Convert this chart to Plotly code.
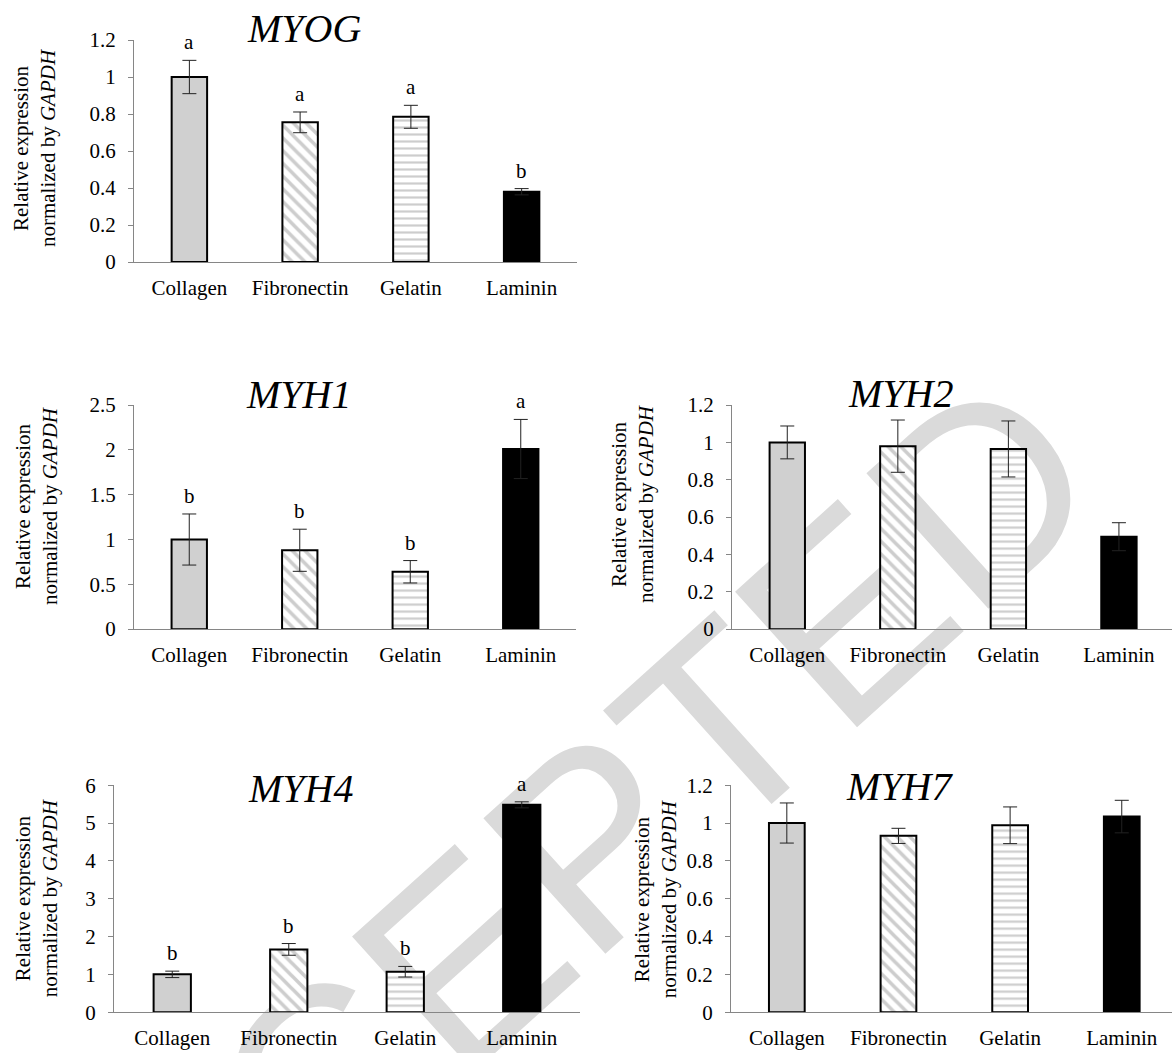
import plotly.graph_objects as go

W, H = 1172, 1053

categories = ["Collagen", "Fibronectin", "Gelatin", "Laminin"]

myog_mean = [1.00, 0.755, 0.785, 0.38]
myog_err = [0.09, 0.056, 0.062, 0.017]
myog_letters = ["a", "a", "a", "b"]

myh1_mean = [1.00, 0.88, 0.64, 2.01]
myh1_err = [0.285, 0.235, 0.125, 0.33]
myh1_letters = ["b", "b", "b", "a"]

myh2_mean = [1.00, 0.98, 0.965, 0.495]
myh2_err = [0.088, 0.14, 0.15, 0.075]
myh2_letters = []

myh4_mean = [1.00, 1.66, 1.07, 5.48]
myh4_err = [0.085, 0.155, 0.14, 0.08]
myh4_letters = ["b", "b", "b", "a"]

myh7_mean = [1.00, 0.932, 0.988, 1.034]
myh7_err = [0.106, 0.04, 0.097, 0.086]
myh7_letters = []

# style per category
bar_colors = ["#d0d0d0", "white", "white", "black"]
pat_shapes = ["", "\\", "-", ""]
pat_size = [8, 9, 7, 8]
pat_solid = [0.3, 0.4, 0.32, 0.3]
PAT_FG = "#9c9c9c"

FONT = "Liberation Serif"
AXC = "#868686"


def fx(px):
    return px / W


def fy(py):
    # vertical placement calibrated against the photographed page
    return 1 - ((py - 11) / 0.977) / H


panels = [
    dict(name="MYOG", mean=myog_mean, err=myog_err, letters=myog_letters,
         xd=(134, 577), yd=(39, 261), ymax=1.2, dtick=0.2, xmax=3.5,
         tpos=(304, 27), ypos=(34, 147)),
    dict(name="MYH1", mean=myh1_mean, err=myh1_err, letters=myh1_letters,
         xd=(134, 576), yd=(404, 628), ymax=2.5, dtick=0.5, xmax=3.5,
         tpos=(298, 393), ypos=(36, 505)),
    dict(name="MYH2", mean=myh2_mean, err=myh2_err, letters=myh2_letters,
         xd=(732, 1172), yd=(404, 628), ymax=1.2, dtick=0.2, xmax=3.48,
         tpos=(901, 392), ypos=(632, 503)),
    dict(name="MYH4", mean=myh4_mean, err=myh4_err, letters=myh4_letters,
         xd=(114, 580), yd=(784, 1011), ymax=6, dtick=1, xmax=3.5,
         tpos=(300, 787), ypos=(36, 897)),
    dict(name="MYH7", mean=myh7_mean, err=myh7_err, letters=myh7_letters,
         xd=(731, 1172), yd=(784, 1011), ymax=1.2, dtick=0.2, xmax=3.45,
         tpos=(899, 785), ypos=(655, 898)),
]

fig = go.Figure()
annotations = []
layout_axes = {}

for i, p in enumerate(panels):
    n = i + 1
    xa = "x" if n == 1 else f"x{n}"
    ya = "y" if n == 1 else f"y{n}"
    for j, cat in enumerate(categories):
        marker = dict(color=bar_colors[j], line=dict(color="black", width=2))
        if pat_shapes[j]:
            marker["pattern"] = dict(shape=pat_shapes[j], fgcolor=PAT_FG,
                                     bgcolor="white", size=pat_size[j],
                                     solidity=pat_solid[j], fillmode="overlay")
        fig.add_trace(go.Bar(
            x=[cat], y=[p["mean"][j]], xaxis=xa, yaxis=ya,
            width=0.32, marker=marker,
            error_y=dict(type="data", array=[p["err"][j]], visible=True,
                         color="#222222", thickness=1, width=7),
            showlegend=False, hoverinfo="skip",
        ))
    xkey = "xaxis" if n == 1 else f"xaxis{n}"
    ykey = "yaxis" if n == 1 else f"yaxis{n}"
    layout_axes[xkey] = dict(
        domain=[fx(p["xd"][0]), fx(p["xd"][1])], anchor=ya,
        range=[-0.5, p["xmax"]], type="category",
        categoryorder="array", categoryarray=categories,
        showline=True, linecolor=AXC, linewidth=1, ticks="",
        showgrid=False, zeroline=False,
        tickfont=dict(family=FONT, size=21, color="black"),
        ticklabelstandoff=7,
    )
    layout_axes[ykey] = dict(
        domain=[fy(p["yd"][1]), fy(p["yd"][0])], anchor=xa,
        range=[0, p["ymax"]], dtick=p["dtick"], tick0=0,
        showline=True, linecolor=AXC, linewidth=1,
        ticks="outside", ticklen=5, tickcolor=AXC, tickwidth=1,
        showgrid=False, zeroline=False,
        tickfont=dict(family=FONT, size=21, color="black"),
        ticklabelstandoff=8,
    )
    annotations.append(dict(
        text=f"<i>{p['name']}</i>", x=fx(p["tpos"][0]), y=fy(p["tpos"][1]),
        xref="paper", yref="paper", xanchor="center", yanchor="middle",
        showarrow=False, font=dict(family=FONT, size=40, color="black"),
    ))
    annotations.append(dict(
        text="Relative expression<br>normalized by <i>GAPDH</i>",
        x=fx(p["ypos"][0]), y=fy(p["ypos"][1]),
        xref="paper", yref="paper", xanchor="center", yanchor="middle",
        textangle=-90, showarrow=False,
        font=dict(family=FONT, size=21, color="black"),
    ))
    for c, m, e, l in zip(categories, p["mean"], p["err"], p["letters"]):
        annotations.append(dict(
            text=l, x=c, y=m + e, xref=xa, yref=ya,
            xanchor="center", yanchor="bottom", yshift=4,
            showarrow=False, font=dict(family=FONT, size=21, color="black"),
        ))

watermark = dict(
    type="rect", xref="paper", yref="paper",
    x0=fx(-10), x1=fx(1010), y0=fy(1330), y1=fy(450),
    line=dict(width=0), fillcolor="rgba(0,0,0,0)", layer="below",
    label=dict(text="ACCEPTED", textangle=-42, textposition="middle center",
               font=dict(family="Liberation Sans", size=265, color="#dadada")),
)

fig.update_layout(
    width=W, height=H,
    margin=dict(l=0, r=0, t=0, b=0),
    paper_bgcolor="white", plot_bgcolor="rgba(0,0,0,0)",
    annotations=annotations,
    shapes=[watermark],
    barmode="overlay",
    **layout_axes,
)

fig.write_html("out.html", config={"displayModeBar": False},
               post_script="document.body.style.margin='0';document.body.style.overflow='hidden';")
